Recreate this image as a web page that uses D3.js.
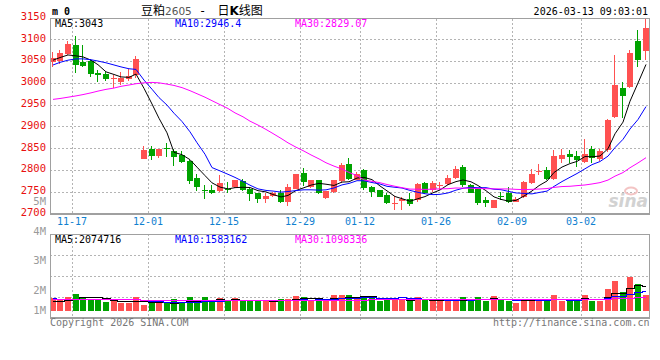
<!DOCTYPE html>
<html><head><meta charset="utf-8">
<script src="https://cdn.jsdelivr.net/npm/d3@7/dist/d3.min.js"></script>
<style>body{margin:0;background:#fff}svg{display:block}</style>
</head><body>
<svg id="c" width="660" height="360"></svg>
<script>
const dates = ["11-12","11-13","11-14","11-17","11-18","11-19","11-20","11-21","11-24","11-25","11-26","11-27","11-28",
"12-01","12-02","12-03","12-04","12-05","12-08","12-09","12-10","12-11","12-12","12-15","12-16","12-17","12-18","12-19","12-22","12-23","12-24","12-25","12-26","12-29","12-30","12-31",
"01-05","01-06","01-07","01-08","01-09","01-12","01-13","01-14","01-15","01-16","01-19","01-20","01-21","01-22","01-23","01-26","01-27","01-28","01-29","01-30",
"02-02","02-03","02-04","02-05","02-06","02-09","02-10","02-11","02-12","02-13","02-24","02-25","02-26","02-27",
"03-02","03-03","03-04","03-05","03-06","03-09","03-10","03-11","03-12"];
const openP = [3048,3049,3067,3088,3048,3049,3023,3020,3010,3002, 3008,3018,2825,2847,2831,2850,2844,2834,2820,2782, 2753,2753,2751,2756,2761,2775,2757,2746,2733,2740, 2746,2727,2757,2792,2761,2776,2736,2750,2775,2813, 2778,2799,2761,2753,2742,2723,2729,2734,2731,2770, 2753,2765,2767,2782,2806,2765,2757,2731,2713,2740, 2746,2727,2738,2769,2796,2799,2779,2824,2837,2832, 2818,2849,2824,2845,2922,2987,2990,3095,3073];
const highP = [3071,3076,3097,3107,3086,3055,3029,3025,3019,3025, 3032,3061,2855,2855,2848,2861,2849,2843,2822,2790, 2765,2765,2788,2772,2777,2779,2761,2748,2748,2750, 2755,2767,2791,2805,2778,2778,2751,2778,2815,2828, 2795,2803,2763,2755,2746,2740,2737,2746,2769,2772, 2775,2772,2789,2810,2811,2767,2758,2737,2731,2750, 2761,2737,2774,2803,2813,2807,2845,2848,2845,2844, 2870,2854,2849,2918,3065,3003,3076,3122,3150];
const lowP = [3036,3044,3065,3023,3036,3013,3001,3004,2987,2995, 3005,3010,2825,2822,2828,2830,2809,2816,2767,2752, 2734,2744,2750,2748,2759,2752,2729,2724,2725,2737, 2724,2717,2756,2763,2759,2744,2734,2748,2770,2777, 2776,2755,2738,2737,2722,2709,2709,2717,2727,2744, 2750,2754,2765,2780,2760,2746,2719,2715,2712,2730, 2725,2726,2735,2767,2788,2778,2778,2815,2815,2807, 2817,2817,2821,2841,2920,2919,2987,3036,3052];
const closeP = [3058,3069,3090,3042,3039,3020,3017,3008,3012,3011, 3015,3054,2845,2832,2847,2848,2830,2818,2775,2761, 2751,2747,2769,2754,2776,2755,2744,2733,2740,2746, 2727,2761,2790,2772,2776,2747,2751,2776,2811,2779, 2790,2759,2750,2738,2723,2725,2734,2721,2767,2747, 2769,2766,2782,2802,2766,2748,2723,2723,2731,2737, 2727,2733,2772,2790,2798,2780,2831,2834,2830,2823, 2836,2828,2843,2914,2994,2970,3068,3052,3127];
const volumeM = [1.04,0.90,1.15,1.39,1.15,1.01,0.90,0.74,0.90,0.68, 0.68,1.15,0.49,0.68,0.63,0.63,0.98,0.63,1.15,0.74, 1.15,0.82,1.07,0.82,1.07,0.82,0.82,0.82,0.90,0.82, 0.98,0.98,1.23,1.15,0.82,0.98,0.90,1.31,1.31,1.31, 0.96,1.23,1.15,0.82,0.98,1.04,0.96,0.82,1.15,0.90, 0.82,0.82,0.82,0.98,1.15,0.82,1.15,0.82,1.23,0.96, 0.82,0.66,0.98,0.98,0.90,0.82,1.31,0.82,0.82,0.98, 1.31,0.82,0.82,1.80,2.46,1.56,2.79,2.21,1.35];
// moving-average values before enough history exists
const ma5Head = [3052,3058,3064,3062];
const ma10Head = [3041,3047,3052,3055,3055,3053,3050,3046,3041];
const ma30Head = [2962,2964,2967,2970,2973,2977,2981,2985,2988,2992,2995,2998,3000,3001,3000,2997,2994,2989,2982,2975,2967,2959,2950,2941,2931,2922,2912,2903,2893];
const volMa5Head = [0.84,0.83,0.88,1.02];
const volMa10Head = [1.03,1.00,0.99,1.00,1.02,1.02,1.00,0.99,0.99];
const volMa30Head = [0.96,0.96,0.96,0.97,0.97,0.97,0.96,0.96,0.96,0.95,0.95,0.95,0.94,0.94,0.93,0.93,0.93,0.92,0.92,0.92,0.92,0.91,0.91,0.91,0.90,0.90,0.90,0.90,0.89];
const tickDates = ["11-17","12-01","12-15","12-29","01-12","01-26","02-09","03-02"];
const priceTicks = [2700,2750,2800,2850,2900,2950,3000,3050,3100,3150];
const volLabelValues = [1,2,3,4,5];
const priceMaText = ["MA5:3043","MA10:2946.4","MA30:2829.07"];
const volMaText = ["MA5:2074716","MA10:1583162","MA30:1098336"];
const titleParts = ["豆粕","2605"," - ","日","K","线图"];
const stampText = "2026-03-13 09:03:01";
const copyText = "Copyright 2026 SINA.COM";
const urlText = "http://finance.sina.com.cn";

// ---------- layout ----------
const L = 50, R = 649, T = 18.5, B = 213.5;
const VT = 234, VB = 318, VBase = 311;
const RED = "#ff5151", GREEN = "#00a300";
const MONO = "'DejaVu Sans Mono', monospace";
const maColors = ["#000000", "#0000ff", "#ff00ff"];

const svg = d3.select("#c");
svg.append("rect").attr("width",660).attr("height",360).attr("fill","#fff");

const x = d3.scaleBand().domain(dates).range([49.9, 648.7]).paddingInner(0.21).paddingOuter(0);
const bw = Math.round(x.bandwidth());
const xs = d => Math.round(x(d));
const xc = d => xs(d) + bw / 2;
const y = d3.scaleLinear().domain([2700, 3150]).range([213.5, 17.5]);
const yv = d3.scaleLinear().domain([0, 6]).range([VBase, VBase - 6 * 12.2]);
const volLabelY = d3.scaleLinear().domain([1, 2, 5]).range([314, 294, 205]);
const volGrid = d3.scaleLinear().domain([0, 4]).range([VB, VT]);

function movingAvg(vals, n, head) {
  return vals.map((v, i) => i < n - 1 ? head[i] : d3.mean(vals.slice(i - n + 1, i + 1)));
}
const data = dates.map((d, i) => ({d, o: openP[i], h: highP[i], l: lowP[i], c: closeP[i], v: volumeM[i]}));
const ma = [movingAvg(closeP, 5, ma5Head), movingAvg(closeP, 10, ma10Head), movingAvg(closeP, 30, ma30Head)];
const vma = [movingAvg(volumeM, 5, volMa5Head), movingAvg(volumeM, 10, volMa10Head), movingAvg(volumeM, 30, volMa30Head)];

const defs = svg.append("defs");
defs.append("clipPath").attr("id","clipMain").append("rect").attr("x",L).attr("y",T).attr("width",R-L).attr("height",B-T);
defs.append("clipPath").attr("id","clipVol").append("rect").attr("x",L).attr("y",VT).attr("width",R-L).attr("height",VB-VT);

// ---------- grid ----------
const grid = svg.append("g").attr("stroke","#b4b4b4").attr("stroke-dasharray","2,2").attr("shape-rendering","crispEdges");
priceTicks.filter(p => p > 2700 && p < 3150).forEach(p => {
  grid.append("line").attr("x1",L).attr("x2",R).attr("y1",Math.round(y(p))+0.5).attr("y2",Math.round(y(p))+0.5);
});
[1,2,3].forEach(k => {
  grid.append("line").attr("x1",L).attr("x2",R).attr("y1",Math.round(volGrid(k))+0.5).attr("y2",Math.round(volGrid(k))+0.5);
});
tickDates.forEach(td => {
  const gx = xs(td) - 0.5;
  grid.append("line").attr("x1",gx).attr("x2",gx).attr("y1",T).attr("y2",B);
  grid.append("line").attr("x1",gx).attr("x2",gx).attr("y1",VT).attr("y2",VB + 4);
});

// ---------- watermark ----------
const wm = svg.append("g");
wm.append("ellipse").attr("cx",631).attr("cy",191).attr("rx",6).attr("ry",3.5).attr("fill","none").attr("stroke","#f3c4c4").attr("stroke-width",2);
wm.append("text").attr("x",648).attr("y",207).attr("text-anchor","end")
  .attr("font-family","'DejaVu Sans', sans-serif").attr("font-size",17).attr("font-weight","bold").attr("font-style","italic")
  .attr("fill","#d2d2d2").text("sina");

// ---------- candles ----------
const cg = svg.append("g").attr("clip-path","url(#clipMain)").attr("shape-rendering","crispEdges");
const candle = cg.selectAll("g.k").data(data).join("g").attr("class","k")
  .attr("fill", d => d.c >= d.o ? RED : GREEN).attr("stroke", d => d.c >= d.o ? RED : GREEN);
candle.append("line").attr("x1", d => xs(d.d) + 2.5).attr("x2", d => xs(d.d) + 2.5)
  .attr("y1", d => y(d.h)).attr("y2", d => y(d.l));
candle.append("rect").attr("stroke","none")
  .attr("x", d => xs(d.d)).attr("width", bw)
  .attr("y", d => Math.round(y(Math.max(d.o, d.c))))
  .attr("height", d => Math.max(1, Math.round(y(Math.min(d.o, d.c))) - Math.round(y(Math.max(d.o, d.c)))));

// ---------- MA lines ----------
const mg = svg.append("g").attr("clip-path","url(#clipMain)").attr("fill","none");
ma.forEach((arr, k) => {
  mg.append("path").attr("stroke", maColors[k]).attr("stroke-width",1)
    .attr("d", d3.line().x((v, i) => xc(dates[i])).y(v => y(v))(arr));
});

// ---------- volume ----------
const vg = svg.append("g").attr("clip-path","url(#clipVol)").attr("shape-rendering","crispEdges");
vg.selectAll("rect").data(data).join("rect")
  .attr("x", d => xs(d.d)).attr("width", bw)
  .attr("y", d => Math.round(yv(d.v))).attr("height", d => VBase - Math.round(yv(d.v)))
  .attr("fill", d => d.c >= d.o ? RED : GREEN);
const vmg = svg.append("g").attr("clip-path","url(#clipVol)").attr("fill","none");
vma.forEach((arr, k) => {
  vmg.append("path").attr("stroke", maColors[k]).attr("stroke-width",1).attr("shape-rendering","crispEdges")
    .attr("d", d3.line().curve(d3.curveStep).x((v, i) => xc(dates[i])).y(v => Math.round(yv(v)) + 0.5)(arr));
});

// ---------- frames ----------
const fr = svg.append("g").attr("fill","none").attr("stroke","#a0a0a0").attr("shape-rendering","crispEdges");
fr.append("rect").attr("x",L+0.5).attr("y",T).attr("width",R-L).attr("height",B-T);
fr.append("line").attr("x1",L).attr("x2",R+1).attr("y1",B).attr("y2",B).attr("stroke-width",2);
fr.append("rect").attr("x",L+0.5).attr("y",VT).attr("width",R-L).attr("height",VB-VT);
fr.append("line").attr("x1",L).attr("x2",R+1).attr("y1",VB).attr("y2",VB).attr("stroke-width",2);

// ---------- texts ----------
const tx = svg.append("g").attr("font-family", MONO).attr("font-size", 10);
priceTicks.forEach(p => {
  tx.append("text").attr("x",46).attr("y",y(p)+2.4).attr("text-anchor","end")
    .attr("fill","#e81010").attr("font-size",10.5).text(p);
});
volLabelValues.forEach(v => {
  tx.append("text").attr("x",46).attr("y",volLabelY(v)).attr("text-anchor","end")
    .attr("fill","#9a9a9a").attr("font-size",10.5).text(v + "M");
});
tickDates.forEach(td => {
  tx.append("text").attr("x",xs(td)-1).attr("y",225).attr("text-anchor","middle")
    .attr("fill","#1080d0").text(td);
});
const maX = [55, 175, 295];
priceMaText.forEach((t, k) => tx.append("text").attr("x",maX[k]).attr("y",27.3).attr("fill",maColors[k]).text(t));
volMaText.forEach((t, k) => tx.append("text").attr("x",maX[k]).attr("y",242.7).attr("fill",maColors[k]).text(t));
tx.append("text").attr("x",52).attr("y",15).attr("font-weight","bold").attr("fill","#000").text("m 0");
tx.append("text").attr("x",648).attr("y",15).attr("text-anchor","end").attr("fill","#000").text(stampText);
tx.append("text").attr("x",50).attr("y",325.5).attr("fill","#777").text(copyText);
tx.append("text").attr("x",649.5).attr("y",325.5).attr("text-anchor","end").attr("fill","#777").text(urlText);

const title = svg.append("text").attr("x",141).attr("y",14.5).attr("fill","#000")
  .attr("font-family","'Noto Sans CJK SC', sans-serif").attr("font-size",12);
title.append("tspan").text(titleParts[0]);
title.append("tspan").attr("font-family","'DejaVu Sans', sans-serif").attr("font-size",10.5).attr("fill","#555").text(titleParts[1]);
title.append("tspan").attr("font-family","'DejaVu Sans Mono', monospace").style("white-space","pre").text(titleParts[2]);
title.append("tspan").attr("dx",4).text(titleParts[3]);
title.append("tspan").attr("font-family","'DejaVu Sans', sans-serif").attr("font-weight","bold").text(titleParts[4]);
title.append("tspan").text(titleParts[5]);
</script></body></html>
